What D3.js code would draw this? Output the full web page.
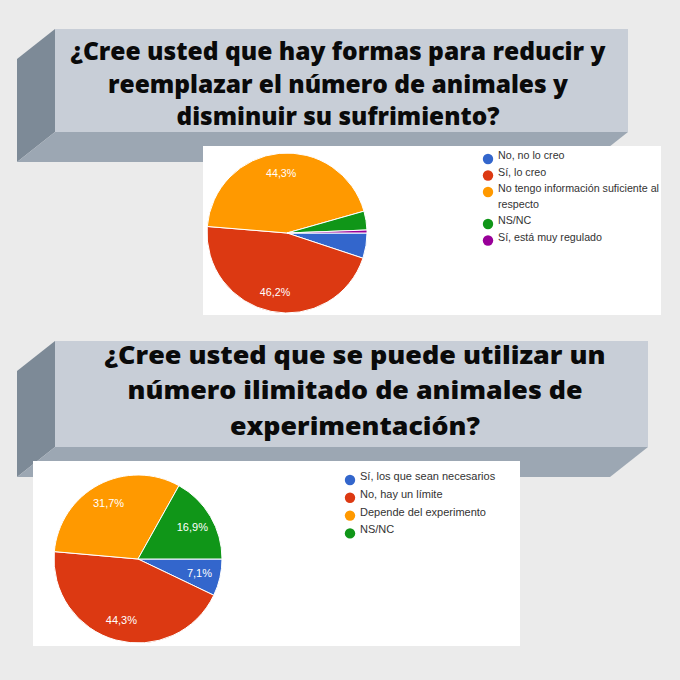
<!DOCTYPE html>
<html>
<head>
<meta charset="utf-8">
<script src="https://cdn.jsdelivr.net/npm/d3@7"></script>
<style>
  html, body { margin: 0; padding: 0; background: #ebebeb; }
  svg { display: block; }
</style>
</head>
<body>
<svg id="chart" width="680" height="680"></svg>
<script>
// Question 1
const titleA = [
  '¿Cree usted que hay formas para reducir y',
  'reemplazar el número de animales y',
  'disminuir su sufrimiento?'
];
const labelsA = [
  'No, no lo creo',
  'Sí, lo creo',
  'No tengo información suficiente al respecto',
  'NS/NC',
  'Sí, está muy regulado'
];
const valuesA = [5.1, 46.2, 44.3, 3.8, 0.6];

// Question 2
const titleB = [
  '¿Cree usted que se puede utilizar un',
  'número ilimitado de animales de',
  'experimentación?'
];
const labelsB = [
  'Sí, los que sean necesarios',
  'No, hay un límite',
  'Depende del experimento',
  'NS/NC'
];
const valuesB = [7.1, 44.3, 31.7, 16.9];

const sliceColors = ['#3366cc', '#dc3912', '#ff9900', '#109618', '#990099'];

const DEPTH_X = -38;
const DEPTH_Y = 30;
const LABEL_MIN = 7; // smaller slices get no percentage label

const svg = d3.select('#chart');

svg.append('rect')
  .attr('width', 680)
  .attr('height', 680)
  .attr('fill', '#ebebeb');

function drawBanner (g, box, lines, font) {
  let x = box.x, y = box.y, w = box.w, h = box.h;
  // left side face
  g.append('polygon')
    .attr('points', [[x, y], [x + DEPTH_X, y + DEPTH_Y], [x + DEPTH_X, y + h + DEPTH_Y], [x, y + h]].join(' '))
    .attr('fill', '#7d8a97');
  // bottom face
  g.append('polygon')
    .attr('points', [[x, y + h], [x + DEPTH_X, y + h + DEPTH_Y], [x + w + DEPTH_X, y + h + DEPTH_Y], [x + w, y + h]].join(' '))
    .attr('fill', '#9ca7b3');
  g.append('rect')
    .attr('x', x).attr('y', y)
    .attr('width', w).attr('height', h)
    .attr('fill', '#c8ced7');

  g.selectAll('text.title')
    .data(lines)
    .enter().append('text')
    .classed('title', true)
    .attr('x', font.cx)
    .attr('y', (d, i) => font.baselines[i])
    .attr('text-anchor', 'middle')
    .attr('textLength', (d, i) => font.widths[i])
    .attr('lengthAdjust', 'spacingAndGlyphs')
    .style('font-family', '"Open Sans", sans-serif')
    .style('font-weight', 800)
    .style('font-size', font.size + 'px')
    .attr('fill', '#0a0a0a')
    .text(d => d);
}

function wrapLabel (textSel, label, maxWidth, lineStep) {
  let words = label.split(' ');
  let line = [];
  let tspan = textSel.append('tspan').attr('x', textSel.attr('x')).attr('dy', 0);
  let lineCount = 1;
  words.forEach(word => {
    line.push(word);
    tspan.text(line.join(' '));
    if (tspan.node().getComputedTextLength() > maxWidth && line.length > 1) {
      line.pop();
      tspan.text(line.join(' '));
      line = [word];
      tspan = textSel.append('tspan')
        .attr('x', textSel.attr('x'))
        .attr('dy', lineStep)
        .text(word);
      lineCount += 1;
    }
  });
  return lineCount;
}

function drawPieChart (g, cfg, labels, values) {
  g.append('rect')
    .attr('x', cfg.panel.x).attr('y', cfg.panel.y)
    .attr('width', cfg.panel.w).attr('height', cfg.panel.h)
    .attr('fill', '#ffffff');

  let pie = d3.pie()
    .sort(null)
    .value(d => d)
    .startAngle(Math.PI / 2)
    .endAngle(Math.PI / 2 + 2 * Math.PI);
  let arc = d3.arc().innerRadius(0).outerRadius(cfg.r);
  let labelArc = d3.arc().innerRadius(cfg.r * 0.75).outerRadius(cfg.r * 0.75);

  let slices = g.append('g')
    .attr('transform', 'translate(' + cfg.cx + ',' + cfg.cy + ')');
  let arcs = pie(values);

  slices.selectAll('path')
    .data(arcs)
    .enter().append('path')
    .attr('d', arc)
    .attr('fill', (d, i) => sliceColors[i])
    .attr('stroke', '#ffffff')
    .attr('stroke-width', 1);

  slices.selectAll('text')
    .data(arcs.filter(d => d.data >= LABEL_MIN))
    .enter().append('text')
    .attr('transform', d => 'translate(' + labelArc.centroid(d) + ')')
    .attr('text-anchor', 'middle')
    .attr('dy', '0.35em')
    .style('font-family', '"Liberation Sans", Arial, sans-serif')
    .style('font-size', cfg.fontSize + 'px')
    .attr('fill', '#ffffff')
    .text(d => d3.format('.1f')(d.data).replace('.', ',') + '%');

  // legend
  let legend = g.append('g');
  let y = cfg.legend.y;
  labels.forEach((label, i) => {
    legend.append('circle')
      .attr('cx', cfg.legend.x)
      .attr('cy', y)
      .attr('r', 5.2)
      .attr('fill', sliceColors[i]);
    let text = legend.append('text')
      .attr('x', cfg.legend.x + 10)
      .attr('y', y)
      .attr('dy', '0.35em')
      .style('font-family', '"Liberation Sans", Arial, sans-serif')
      .style('font-size', cfg.fontSize + 'px')
      .attr('fill', '#333333');
    let lineCount = wrapLabel(text, label, cfg.legend.wrap, cfg.legend.lineStep);
    y += cfg.legend.rowStep + (lineCount - 1) * cfg.legend.lineStep;
  });
}

let groupA = svg.append('g');
drawBanner(groupA, { x: 55, y: 29, w: 573, h: 103 }, titleA, {
  cx: 338, size: 24, baselines: [60, 93, 125], widths: [535, 460, 323]
});
drawPieChart(groupA, {
  panel: { x: 203, y: 146, w: 458, h: 169 },
  cx: 287, cy: 233, r: 80, fontSize: 10.7,
  legend: { x: 488, y: 159, rowStep: 16.5, lineStep: 15.5, wrap: 166 }
}, labelsA, valuesA);

let groupB = svg.append('g');
drawBanner(groupB, { x: 55, y: 341, w: 593, h: 106 }, titleB, {
  cx: 355, size: 25.5, baselines: [364, 399, 435], widths: [501, 455, 250]
});
drawPieChart(groupB, {
  panel: { x: 33, y: 461, w: 487, h: 185 },
  cx: 138, cy: 559, r: 84, fontSize: 11,
  legend: { x: 350, y: 480, rowStep: 17.8, lineStep: 16, wrap: 200 }
}, labelsB, valuesB);
</script>
</body>
</html>
